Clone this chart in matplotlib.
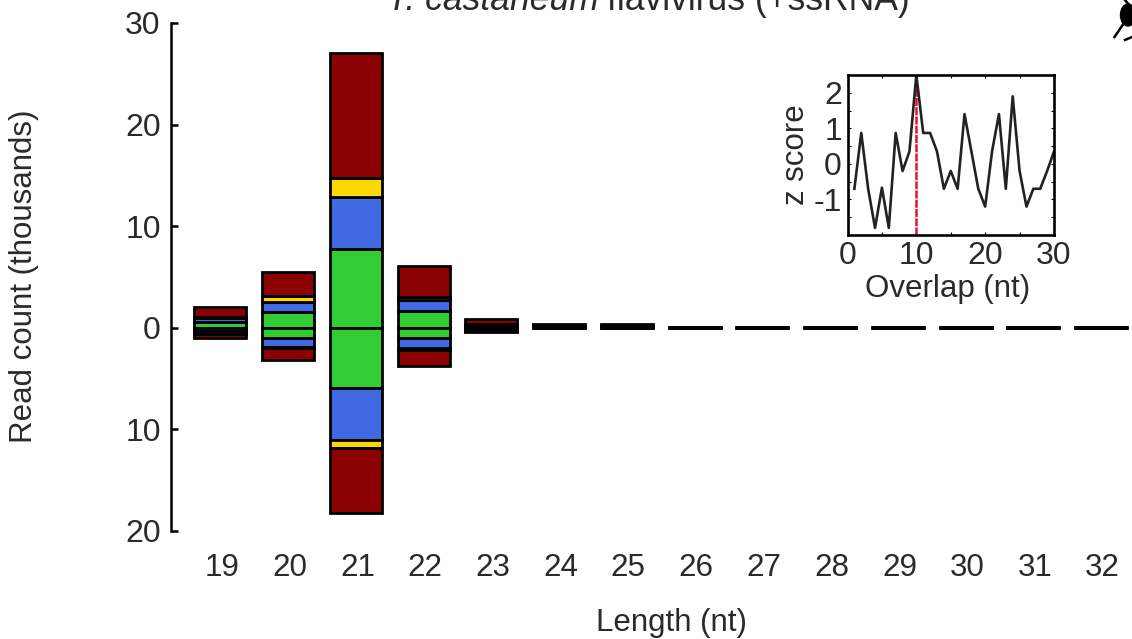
import numpy as np
import matplotlib
matplotlib.use("Agg")
import matplotlib.pyplot as plt
from matplotlib.lines import Line2D
from matplotlib.patches import Ellipse
from matplotlib.ticker import MultipleLocator
from matplotlib.transforms import ScaledTranslation

plt.rcParams['font.family'] = ['Liberation Sans', 'DejaVu Sans']
plt.rcParams['axes.unicode_minus'] = False

lengths = [19, 20, 21, 22, 23, 24, 25, 26, 27, 28, 29, 30, 31, 32]

# thousands of reads, stacked outwards from zero
green_up = [0.6, 1.6, 7.8, 1.7, 0.15, 0.15, 0.12, 0.05, 0.05, 0.03, 0.03, 0.02, 0.02, 0.01]
blue_up = [0.4, 0.95, 5.1, 1.0, 0.15, 0.1, 0.1, 0.03, 0.03, 0.02, 0.02, 0.01, 0.01, 0.01]
gold_up = [0.1, 0.55, 1.8, 0.3, 0.05, 0.02, 0.02, 0.01, 0.01, 0.01, 0.01, 0.01, 0.01, 0.01]
red_up = [0.9, 2.4, 12.3, 3.1, 0.5, 0.13, 0.11, 0.03, 0.03, 0.02, 0.02, 0.02, 0.01, 0.01]

green_down = [0.35, 1.0, 5.9, 1.0, 0.15, 0.02, 0.02, 0.01, 0.01, 0.01, 0.01, 0.01, 0.01, 0.01]
blue_down = [0.25, 0.9, 5.1, 1.0, 0.15, 0.01, 0.01, 0.01, 0.01, 0.01, 0.01, 0.01, 0.01, 0.01]
gold_down = [0.02, 0.1, 0.8, 0.2, 0.02, 0.01, 0.01, 0.01, 0.01, 0.01, 0.01, 0.01, 0.01, 0.01]
red_down = [0.43, 1.2, 6.4, 1.6, 0.13, 0.01, 0.01, 0.01, 0.01, 0.01, 0.01, 0.01, 0.01, 0.01]

overlap = list(range(1, 31))
zscore = [-0.7, 0.87, -0.7, -1.8, -0.67, -1.8, 0.87, -0.2, 0.35, 2.5,
          0.87, 0.87, 0.35, -0.7, -0.2, -0.7, 1.4, 0.35, -0.7, -1.2,
          0.35, 1.4, -0.7, 1.9, -0.2, -1.2, -0.7, -0.7, -0.2, 0.35]

colours = ['#32cd32', '#4169e1', '#ffd700', '#8b0000']
text_col = '#2a2a2a'
W, H = 1132, 639


def axes_px(left, right, top, bottom):
    return [left / W, 1 - bottom / H, (right - left) / W, (bottom - top) / H]


def stack(ax, segments, sign):
    base = np.zeros(len(lengths))
    for seg, col in zip(segments, colours):
        seg = np.array(seg)
        ax.bar(lengths, sign * seg, 0.767, bottom=base, color=col,
               edgecolor='black', linewidth=2.0)
        base = base + sign * seg


fig = plt.figure(figsize=(W / 100, H / 100), dpi=100)

ax = fig.add_axes(axes_px(170.5, W, 23, 531))
stack(ax, [green_up, blue_up, gold_up, red_up], 1)
stack(ax, [green_down, blue_down, gold_down, red_down], -1)

ax.set_xlim(18.265, 32.455)
ax.set_ylim(-20, 30)
ax.set_xticks(lengths)
ax.set_yticks([-20, -10, 0, 10, 20, 30])
ax.set_yticklabels(['20', '10', '0', '10', '20', '30'])
ax.tick_params(axis='x', length=0, pad=16, labelsize=22.6, labelcolor=text_col)
ax.tick_params(axis='y', direction='in', length=5, width=1.8, pad=7,
               labelsize=23, labelcolor=text_col)
# labels sit a little right of the bar centres in the original
for lab in ax.get_xticklabels():
    lab.set_transform(lab.get_transform() + ScaledTranslation(1.5 / 100, 0, fig.dpi_scale_trans))
for side in ['top', 'right', 'bottom']:
    ax.spines[side].set_visible(False)
ax.spines['left'].set_linewidth(1.8)

fig.text(672 / W, 1 - 622.5 / H, 'Length (nt)', ha='center', va='center',
         fontsize=22.5, color=text_col)
fig.text(24.5 / W, 1 - 276 / H, 'Read count (thousands)', rotation=90, ha='center',
         va='center', fontsize=22.5, color=text_col)

# title: italic species name, then upright rest
t1 = fig.text(387 / W, 1 - 10 / H, 'T. castaneum', style='italic', ha='left',
              va='baseline', fontsize=25.6, color=text_col)
fig.canvas.draw()
end = t1.get_window_extent().x1
fig.text((end + 8) / W, 1 - 10 / H, 'flavivirus (+ssRNA)', ha='left', va='baseline',
         fontsize=25.6, color=text_col)

# inset
inset = fig.add_axes(axes_px(847.5, 1054, 75, 235))
inset.plot([10, 10], [-2, 2.5], color='#e8112d', lw=1.8, ls=(0, (3.2, 0.5)))
inset.plot(overlap, zscore, color='#222222', lw=1.9)
inset.set_xlim(0, 30)
inset.set_ylim(-2, 2.5)
inset.set_xticks([0, 10, 20, 30])
inset.set_yticks([-1, 0, 1, 2])
inset.xaxis.set_minor_locator(MultipleLocator(5))
inset.yaxis.set_minor_locator(MultipleLocator(0.5))
inset.tick_params(which='both', direction='in', top=True, right=True, length=2.5,
                  width=0.8)
inset.tick_params(labelsize=23, labelcolor=text_col, pad=4)
for s in inset.spines.values():
    s.set_linewidth(1.9)
fig.text(948 / W, 1 - 289.5 / H, 'Overlap (nt)', ha='center', va='center', fontsize=22.5,
         color=text_col)
fig.text(796 / W, 1 - 155 / H, 'z score', rotation=90, ha='center', va='center',
         fontsize=22.5, color=text_col)

# beetle silhouette, cut off by the right edge
fig.add_artist(Ellipse((1128 / W, 1 - 15 / H), 15 / W, 22 / H, color='black',
                       transform=fig.transFigure))
for xs, ys in [([1124, 1114.5], [23, 37]), ([1125, 1130], [0, 6]),
               ([1125, 1132], [40, 37])]:
    fig.add_artist(Line2D([x / W for x in xs], [1 - y / H for y in ys], color='black',
                          lw=1.8, transform=fig.transFigure))

fig.savefig('out.png', dpi=100)
